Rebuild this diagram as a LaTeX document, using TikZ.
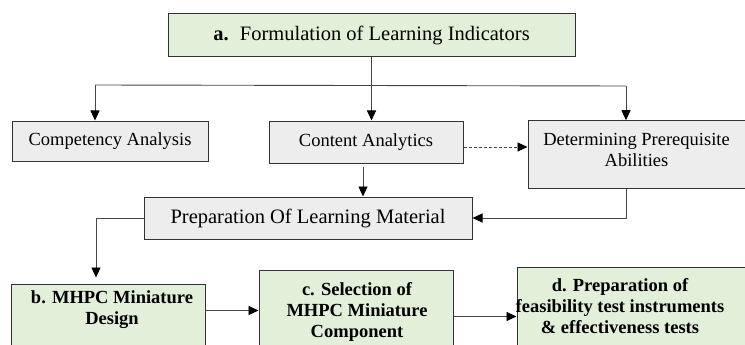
\documentclass[tikz,border=0pt]{standalone}
\usepackage{fontspec}
\setmainfont{Liberation Serif}
\usepackage{tikz}
\usetikzlibrary{arrows.meta}
\definecolor{boxgreen}{HTML}{E2EFD9}
\definecolor{boxgray}{HTML}{EDEDED}
\definecolor{edgegray}{HTML}{333333}
\definecolor{linegray}{HTML}{454545}

\begin{document}
\begin{tikzpicture}[x=1pt, y=-1pt,
  greenbox/.style={rectangle, draw=edgegray, line width=1pt, fill=boxgreen, inner sep=0pt},
  graybox/.style={rectangle, draw=edgegray, line width=1pt, fill=boxgray, inner sep=0pt},
  bigtxt/.style={font=\fontsize{20.5}{24}\selectfont},
  smalltxt/.style={font=\fontsize{18.5}{21}\selectfont, align=center, inner sep=0pt},
  boldtxt/.style={smalltxt, font=\fontsize{18.5}{21}\selectfont\bfseries},
  arr/.style={draw=linegray, line width=0.9pt, -{Triangle[length=10pt,width=9pt,color=black]}},
  link/.style={draw=linegray, line width=0.9pt}]
  \useasboundingbox (0,0) rectangle (745,345);
  \clip (0,0) rectangle (745,345);

  % Top
  \node[greenbox, minimum width=407pt, minimum height=43pt, bigtxt] (ind) at (371.5, 35.5) {\textbf{a.}\hspace{0.55em}Formulation of Learning Indicators};

  % Analysis row
  \node[graybox, minimum width=196pt, minimum height=40pt, smalltxt] (comp) at (110, 141) {Competency Analysis};
  \node[graybox, minimum width=194pt, minimum height=42pt, smalltxt] (content) at (366, 142) {Content Analytics};
  \node[graybox, minimum width=219pt, minimum height=67.5pt] (determ) at (637.5, 154.5) {};
  \node[smalltxt, anchor=north] (detlbl) at (636.5, 133) {Determining Prerequisite\\Abilities};

  % Material
  \node[graybox, minimum width=328pt, minimum height=42pt, bigtxt] (prep) at (308, 218) {Preparation Of Learning Material};

  % Bottom row
  \node[greenbox, minimum width=194pt, minimum height=76pt] (design) at (108, 322) {};
  \node[boldtxt, anchor=north] (deslbl) at (112, 290) {b. MHPC Miniature\\Design};
  \node[greenbox, minimum width=194pt, minimum height=90pt] (select) at (356, 315) {};
  \node[boldtxt, anchor=north] (sellbl) at (357, 282) {c. Selection of\\MHPC Miniature\\Component};
  \node[greenbox, minimum width=243pt, minimum height=93pt] (prepare) at (638.5, 313.5) {};
  \node[boldtxt, anchor=north] (prelbl) at (620, 278) {d. Preparation of\\feasibility test instruments\\\& effectiveness tests};

  % Connectors
  \coordinate (busL) at (95, 85);
  \coordinate (busR) at (626, 86);
  \draw[arr] (ind.south) -- (ind.south |- content.north);
  \draw[link] (busL) -- (busR);
  \draw[arr] (busL) -- (busL |- comp.north);
  \draw[arr] (busR) -- (busR |- determ.north);
  \draw[arr, dash pattern=on 3pt off 2pt] ([yshift=-5pt]content.east) -- ([yshift=-5pt]content.east -| determ.west);
  \draw[arr] ([xshift=-3pt, yshift=-3pt]content.south) -- ([xshift=-3pt]content.south |- prep.north);
  \draw[arr] (busR |- determ.south) |- (prep.east);
  \draw[arr, shorten >=6pt] (prep.west) -| ([xshift=-12pt]design.north);
  \draw[arr] ([yshift=-27pt]design.north east) -- ([yshift=-27pt]design.north east -| select.west);
  \draw[arr] ([yshift=-47pt]select.north east) -- ([yshift=-47pt]select.north east -| prepare.west);
\end{tikzpicture}
\end{document}
